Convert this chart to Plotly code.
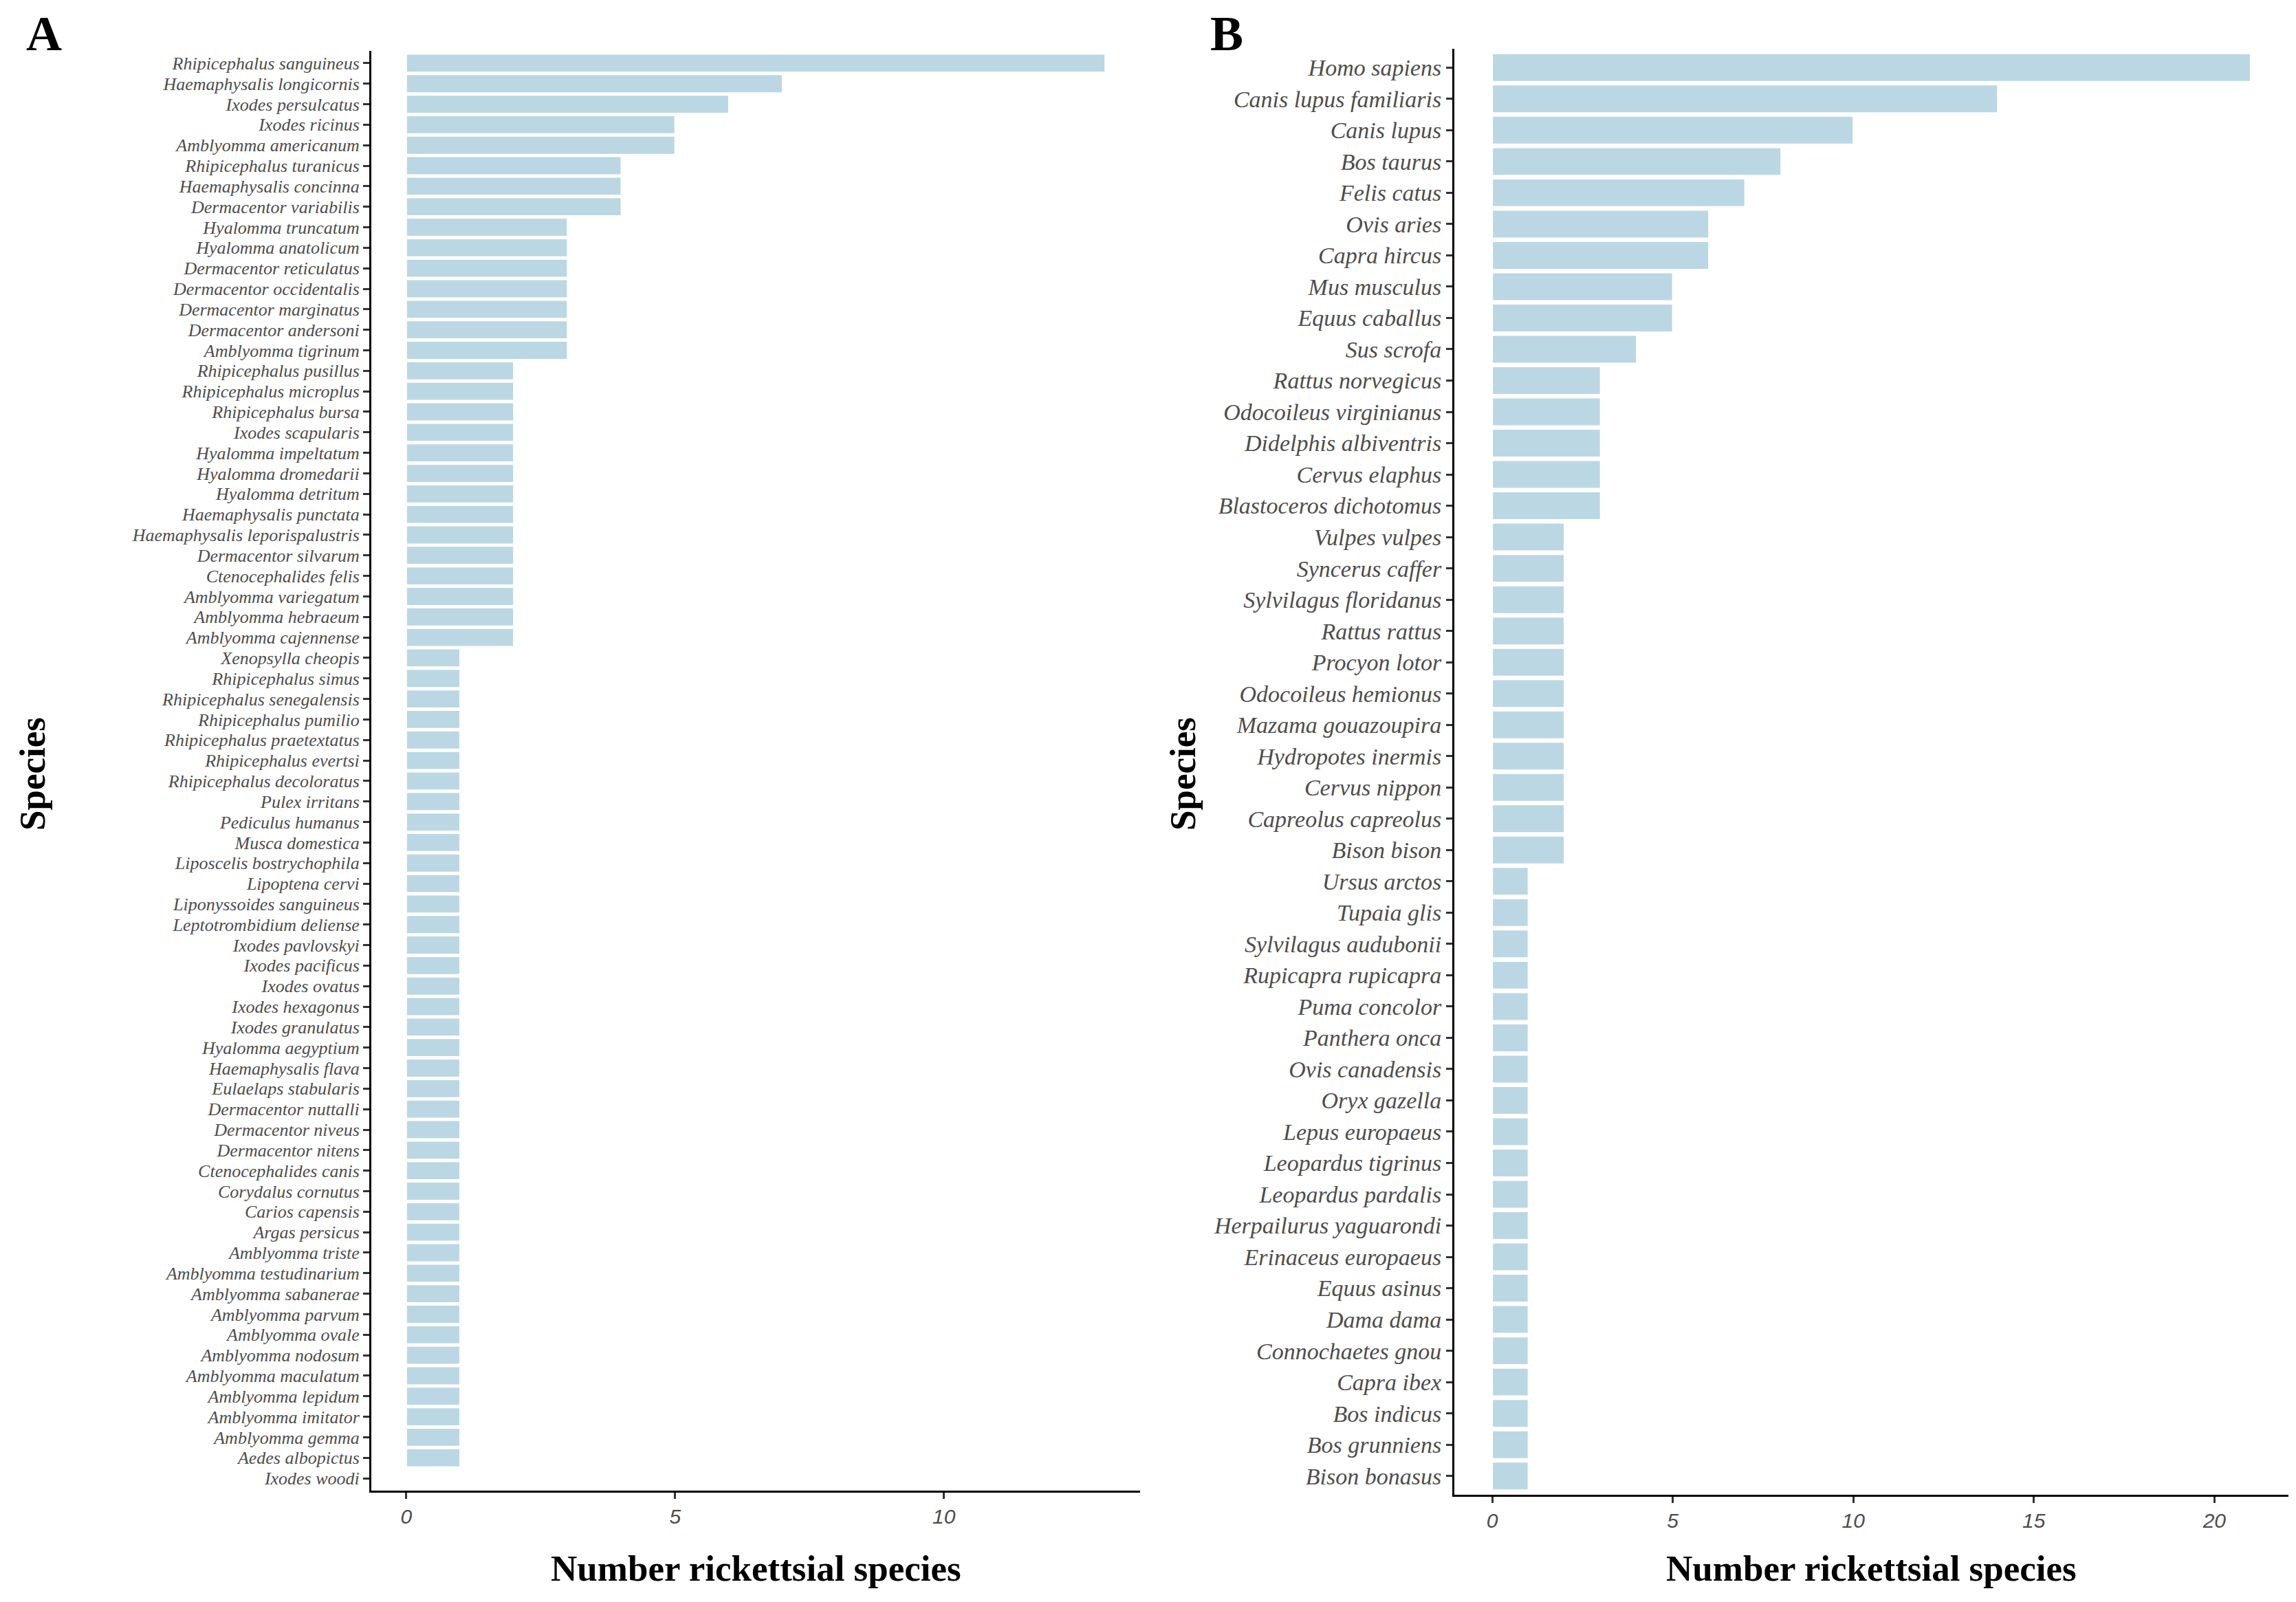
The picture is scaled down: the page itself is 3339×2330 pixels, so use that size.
import plotly.graph_objects as go
from plotly.subplots import make_subplots

# ---- Panel A: arthropod species ----
species_a = [
    "Rhipicephalus sanguineus", "Haemaphysalis longicornis", "Ixodes persulcatus",
    "Ixodes ricinus", "Amblyomma americanum", "Rhipicephalus turanicus",
    "Haemaphysalis concinna", "Dermacentor variabilis", "Hyalomma truncatum",
    "Hyalomma anatolicum", "Dermacentor reticulatus", "Dermacentor occidentalis",
    "Dermacentor marginatus", "Dermacentor andersoni", "Amblyomma tigrinum",
    "Rhipicephalus pusillus", "Rhipicephalus microplus", "Rhipicephalus bursa",
    "Ixodes scapularis", "Hyalomma impeltatum", "Hyalomma dromedarii",
    "Hyalomma detritum", "Haemaphysalis punctata", "Haemaphysalis leporispalustris",
    "Dermacentor silvarum", "Ctenocephalides felis", "Amblyomma variegatum",
    "Amblyomma hebraeum", "Amblyomma cajennense", "Xenopsylla cheopis",
    "Rhipicephalus simus", "Rhipicephalus senegalensis", "Rhipicephalus pumilio",
    "Rhipicephalus praetextatus", "Rhipicephalus evertsi", "Rhipicephalus decoloratus",
    "Pulex irritans", "Pediculus humanus", "Musca domestica",
    "Liposcelis bostrychophila", "Lipoptena cervi", "Liponyssoides sanguineus",
    "Leptotrombidium deliense", "Ixodes pavlovskyi", "Ixodes pacificus",
    "Ixodes ovatus", "Ixodes hexagonus", "Ixodes granulatus",
    "Hyalomma aegyptium", "Haemaphysalis flava", "Eulaelaps stabularis",
    "Dermacentor nuttalli", "Dermacentor niveus", "Dermacentor nitens",
    "Ctenocephalides canis", "Corydalus cornutus", "Carios capensis",
    "Argas persicus", "Amblyomma triste", "Amblyomma testudinarium",
    "Amblyomma sabanerae", "Amblyomma parvum", "Amblyomma ovale",
    "Amblyomma nodosum", "Amblyomma maculatum", "Amblyomma lepidum",
    "Amblyomma imitator", "Amblyomma gemma", "Aedes albopictus", "Ixodes woodi",
]
counts_a = [
    13, 7, 6, 5, 5, 4, 4, 4, 3, 3, 3, 3, 3, 3, 3,
    2, 2, 2, 2, 2, 2, 2, 2, 2, 2, 2, 2, 2, 2,
    1, 1, 1, 1, 1, 1, 1, 1, 1, 1, 1, 1, 1, 1, 1, 1, 1, 1, 1, 1, 1, 1, 1, 1, 1,
    1, 1, 1, 1, 1, 1, 1, 1, 1, 1, 1, 1, 1, 1, 1, 0,
]

# ---- Panel B: vertebrate host species ----
species_b = [
    "Homo sapiens", "Canis lupus familiaris", "Canis lupus", "Bos taurus",
    "Felis catus", "Ovis aries", "Capra hircus", "Mus musculus", "Equus caballus",
    "Sus scrofa", "Rattus norvegicus", "Odocoileus virginianus",
    "Didelphis albiventris", "Cervus elaphus", "Blastoceros dichotomus",
    "Vulpes vulpes", "Syncerus caffer", "Sylvilagus floridanus", "Rattus rattus",
    "Procyon lotor", "Odocoileus hemionus", "Mazama gouazoupira",
    "Hydropotes inermis", "Cervus nippon", "Capreolus capreolus", "Bison bison",
    "Ursus arctos", "Tupaia glis", "Sylvilagus audubonii", "Rupicapra rupicapra",
    "Puma concolor", "Panthera onca", "Ovis canadensis", "Oryx gazella",
    "Lepus europaeus", "Leopardus tigrinus", "Leopardus pardalis",
    "Herpailurus yaguarondi", "Erinaceus europaeus", "Equus asinus", "Dama dama",
    "Connochaetes gnou", "Capra ibex", "Bos indicus", "Bos grunniens", "Bison bonasus",
]
counts_b = [
    21, 14, 10, 8, 7, 6, 6, 5, 5, 4, 3, 3, 3, 3, 3,
    2, 2, 2, 2, 2, 2, 2, 2, 2, 2, 2,
    1, 1, 1, 1, 1, 1, 1, 1, 1, 1, 1, 1, 1, 1, 1, 1, 1, 1, 1, 1,
]

x_ticks_a = [0, 5, 10]
x_ticks_b = [0, 5, 10, 15, 20]

BAR_COLOR = "#BBD7E4"
OFF = 8                      # page body margin of the browser
W, H = 3339 - 2 * OFF, 2330 - 2 * OFF


def px(x):
    return (x - OFF) / W


def py(y):
    return 1 - (y - OFF) / H


fig = make_subplots(rows=1, cols=2)

fig.add_trace(go.Bar(x=counts_a, y=species_a, orientation="h", width=0.9,
                     marker=dict(color=BAR_COLOR, line=dict(color="white", width=2)),
                     showlegend=False), row=1, col=1)
fig.add_trace(go.Bar(x=counts_b, y=species_b, orientation="h", width=0.9,
                     marker=dict(color=BAR_COLOR, line=dict(color="white", width=2)),
                     showlegend=False), row=1, col=2)

ytick_font_a = dict(family="Liberation Serif", size=26, color="#4D4D4D", style="italic")
ytick_font_b = dict(family="Liberation Serif", size=34, color="#4D4D4D", style="italic")
xtick_font = dict(family="Liberation Sans", size=30, color="#4D4D4D", style="italic")

common_axis = dict(showline=True, linecolor="black", linewidth=3, ticks="outside",
                   ticklen=9, tickwidth=3, tickcolor="#333333", showgrid=False,
                   zeroline=False, mirror=False)


def xrange(vals):
    m = max(vals)
    return [-0.05 * m, m * 1.05]


fig.update_xaxes(domain=[px(540), px(1658)], range=xrange(counts_a),
                 tickmode="array", tickvals=x_ticks_a,
                 tickfont=xtick_font, **common_axis, row=1, col=1)
fig.update_xaxes(domain=[px(2115), px(3328)], range=xrange(counts_b),
                 tickmode="array", tickvals=x_ticks_b,
                 tickfont=xtick_font, **common_axis, row=1, col=2)

fig.update_yaxes(domain=[py(2168), py(74)], type="category",
                 categoryorder="array", categoryarray=species_a,
                 tickmode="array", tickvals=species_a, ticktext=species_a,
                 range=[len(species_a) - 1 + 0.6, -0.6],
                 tickfont=ytick_font_a, **common_axis, row=1, col=1)
fig.update_yaxes(domain=[py(2174), py(71)], type="category",
                 categoryorder="array", categoryarray=species_b,
                 tickmode="array", tickvals=species_b, ticktext=species_b,
                 range=[len(species_b) - 1 + 0.6, -0.6],
                 tickfont=ytick_font_b, **common_axis, row=1, col=2)

title_font = dict(family="Liberation Serif", size=53, color="black", weight="bold")
panel_font = dict(family="Liberation Serif", size=72, color="black", weight="bold")

annotations = [
    dict(text="Number rickettsial species", x=px(1099), y=py(2281), font=title_font,
         yanchor="middle"),
    dict(text="Number rickettsial species", x=px(2721), y=py(2281), font=title_font,
         yanchor="middle"),
    dict(text="Species", x=px(47), y=py(1126), textangle=-90, font=title_font,
         yanchor="middle"),
    dict(text="Species", x=px(1720), y=py(1126), textangle=-90, font=title_font,
         yanchor="middle"),
    dict(text="A", x=px(64), y=1, font=panel_font, yanchor="top", borderpad=0),
    dict(text="B", x=px(1784), y=1, font=panel_font, yanchor="top", borderpad=0),
]
for a in annotations:
    a.update(xref="paper", yref="paper", xanchor="center", showarrow=False)

fig.update_layout(
    width=W, height=H,
    margin=dict(l=0, r=0, t=0, b=0),
    plot_bgcolor="white", paper_bgcolor="white",
    bargap=0.1,
    annotations=annotations,
)

fig.write_html("out.html")
